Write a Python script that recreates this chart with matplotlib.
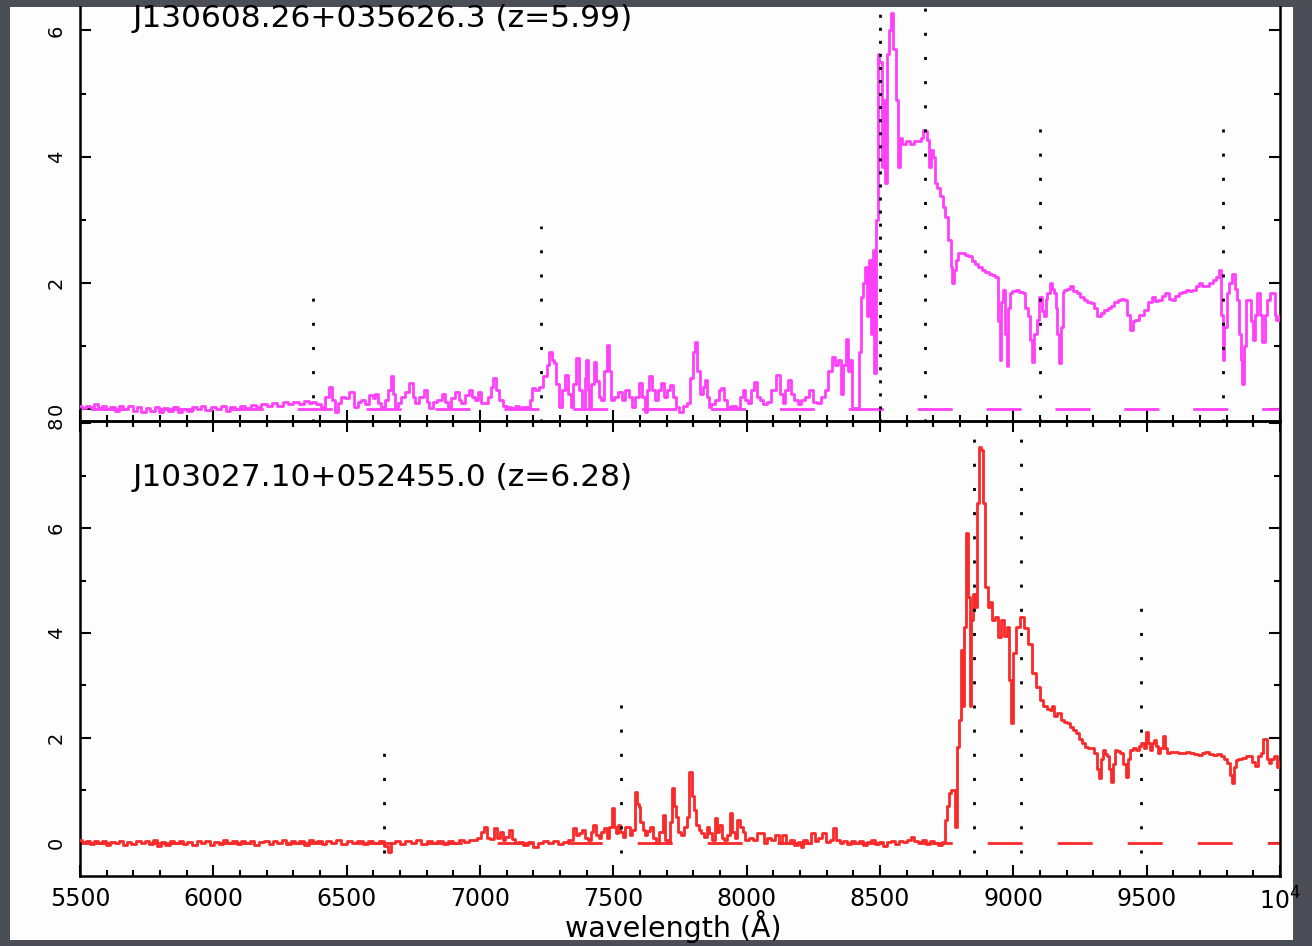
import matplotlib
matplotlib.use("Agg")
import matplotlib.pyplot as plt
from matplotlib.patches import Rectangle
from matplotlib.ticker import FixedLocator, FixedFormatter, MultipleLocator

plt.rcParams['font.family'] = ['DejaVu Sans']
plt.rcParams['mathtext.default'] = 'regular'

# ---- data ----
title_top = "J130608.26+035626.3 (z=5.99)"
title_bot = "J103027.10+052455.0 (z=6.28)"

x_ticks = [5500, 6000, 6500, 7000, 7500, 8000, 8500, 9000, 9500, 10000]
x_tick_labels = ['5500', '6000', '6500', '7000', '7500', '8000', '8500', '9000', '9500', '10$^4$']
y_ticks_top = [0, 2, 4, 6]
y_ticks_bot = [0, 2, 4, 6, 8]

# rest-frame lines: Lyman limit, OVI, Lya, NV, OI, SiIV
line_rest = [912, 1034, 1216, 1240, 1302, 1400]
line_top_wave = [6375, 7228, 8500, 8668, 9101, 9786]
line_top_height = [2.0, 2.9, 10, 10, 4.5, 4.55]
line_bot_wave = [6639, 7528, 8852, 9027, 9479]
line_bot_height = [2.0, 3.0, 10, 10, 4.5]

w_top = [5500, 5515, 5530, 5545, 5560, 5575, 5590, 5605, 5620, 5640, 5655, 5670, 5690, 5705, 5720, 5740,
         5755, 5770, 5790, 5805, 5820, 5840, 5860, 5875, 5890, 5910, 5930, 5945, 5960, 5980, 6000, 6020,
         6040, 6055, 6070, 6090, 6110, 6130, 6150, 6170, 6190, 6210, 6230, 6250, 6270, 6290, 6310, 6330,
         6350, 6365, 6376, 6395, 6412, 6428, 6440, 6452, 6462, 6474, 6484, 6500, 6519, 6534, 6548, 6562,
         6576, 6591, 6603, 6613, 6625, 6634, 6650, 6662, 6670, 6678, 6684, 6698, 6713, 6728, 6742, 6752,
         6763, 6780, 6799, 6806, 6814, 6830, 6849, 6864, 6875, 6885, 6900, 6914, 6925, 6936, 6950, 6964,
         6975, 6986, 7000, 7010, 7022, 7035, 7045, 7053, 7065, 7079, 7093, 7108, 7125, 7140, 7151, 7165,
         7180, 7192, 7201, 7215, 7230, 7244, 7255, 7266, 7273, 7280, 7290, 7301, 7312, 7323, 7334, 7345,
         7356, 7366, 7377, 7388, 7396, 7402, 7408, 7412, 7422, 7431, 7440, 7450, 7459, 7470, 7481, 7488,
         7495, 7510, 7524, 7538, 7553, 7563, 7574, 7590, 7603, 7612, 7624, 7632, 7639, 7650, 7660, 7672,
         7682, 7695, 7706, 7718, 7728, 7739, 7754, 7768, 7782, 7795, 7803, 7811, 7820, 7833, 7840, 7847,
         7854, 7861, 7875, 7890, 7900, 7911, 7920, 7933, 7950, 7969, 7980, 7990, 8000, 8012, 8022, 8033,
         8044, 8055, 8070, 8084, 8100, 8119, 8130, 8141, 8150, 8162, 8172, 8184, 8198, 8213, 8227, 8241,
         8255, 8270, 8285, 8299, 8310, 8327, 8338, 8349, 8356, 8365, 8378, 8385, 8392, 8399, 8406, 8418,
         8425, 8430, 8440, 8449, 8455, 8462, 8469, 8475, 8481, 8488, 8494, 8502, 8510, 8514, 8520, 8530,
         8539, 8545, 8555, 8565, 8570, 8577, 8590, 8605, 8621, 8635, 8647, 8658, 8666, 8672, 8679, 8685,
         8695, 8704, 8710, 8720, 8729, 8740, 8749, 8761, 8768, 8774, 8780, 8787, 8800, 8812, 8825, 8838,
         8850, 8863, 8875, 8888, 8900, 8914, 8925, 8939, 8946, 8952, 8958, 8965, 8972, 8978, 8984, 8990,
         9003, 9016, 9028, 9041, 9050, 9060, 9066, 9073, 9082, 9092, 9098, 9105, 9112, 9118, 9124, 9130,
         9143, 9150, 9156, 9162, 9169, 9175, 9181, 9188, 9194, 9206, 9219, 9232, 9245, 9258, 9270, 9283,
         9296, 9308, 9321, 9334, 9347, 9360, 9372, 9385, 9398, 9410, 9423, 9432, 9442, 9452, 9461, 9480,
         9499, 9512, 9525, 9537, 9550, 9562, 9576, 9588, 9601, 9614, 9627, 9640, 9652, 9665, 9677, 9690,
         9703, 9715, 9728, 9740, 9754, 9766, 9775, 9782, 9788, 9795, 9805, 9815, 9825, 9835, 9842, 9849,
         9856, 9862, 9870, 9878, 9887, 9895, 9900, 9910, 9919, 9928, 9938, 9947, 9957, 9966, 9976, 9984,
         9989, 10000]
f_top = [0.05, 0.02, 0.06, 0.03, 0.08, 0.02, 0.05, 0.0, 0.04, -0.03, 0.05, 0.01, 0.06, -0.02, 0.03, -0.05,
         0.02, -0.03, 0.04, -0.04, 0.02, -0.02, 0.03, -0.05, 0.01, -0.02, 0.04, 0.0, 0.05, -0.01, 0.03, 0.0,
         0.05, -0.02, 0.04, 0.01, 0.06, 0.02, 0.07, 0.03, 0.08, 0.05, 0.1, 0.06, 0.11, 0.08, 0.12, 0.09,
         0.13, 0.1, 0.12, 0.08, 0.04, 0.2, 0.36, 0.15, -0.04, 0.1, 0.2, 0.18, 0.28, 0.04, 0.12, 0.15,
         0.08, 0.23, 0.18, 0.25, 0.1, 0.04, 0.15, 0.3, 0.52, 0.25, 0.04, 0.1, 0.2, 0.28, 0.41, 0.2,
         0.1, 0.2, 0.31, 0.12, 0.02, 0.12, 0.15, 0.25, 0.12, 0.04, 0.18, 0.28, 0.14, 0.1, 0.22, 0.31,
         0.2, 0.15, 0.28, 0.1, 0.1, 0.2, 0.35, 0.49, 0.3, 0.15, 0.06, 0.04, 0.02, 0.05, 0.0, 0.03,
         0.04, 0.15, 0.33, 0.3, 0.36, 0.52, 0.7, 0.91, 0.78, 0.73, 0.4, 0.04, 0.3, 0.54, 0.25, 0.04,
         0.4, 0.81, 0.3, 0.04, 0.5, 0.78, 0.3, 0.04, 0.4, 0.75, 0.45, 0.2, 0.15, 0.6, 1.02, 0.6,
         0.15, 0.2, 0.28, 0.15, 0.31, 0.2, 0.04, 0.2, 0.41, 0.2, -0.04, 0.3, 0.52, 0.3, 0.15, 0.3,
         0.41, 0.2, 0.3, 0.38, 0.2, 0.04, -0.04, 0.05, 0.1, 0.5, 0.9, 1.07, 0.6, 0.25, 0.35, 0.46,
         0.2, 0.04, 0.08, 0.15, 0.3, 0.33, 0.15, 0.04, 0.06, 0.02, 0.2, 0.31, 0.15, 0.1, 0.3, 0.44,
         0.2, 0.15, 0.08, 0.12, 0.3, 0.54, 0.25, 0.1, 0.3, 0.46, 0.25, 0.15, 0.08, 0.15, 0.2, 0.31,
         0.12, 0.1, 0.2, 0.31, 0.6, 0.83, 0.7, 0.78, 0.25, 0.7, 1.12, 0.6, 0.78, 0.0, 0.02, 0.0,
         0.9, 1.78, 2.0, 2.26, 1.47, 2.36, 1.2, 2.52, 0.57, 3.0, 5.63, 5.5, 3.84, 4.9, 3.58, 5.63,
         6.0, 6.27, 5.7, 4.9, 3.84, 4.3, 4.2, 4.25, 4.2, 4.25, 4.25, 4.3, 4.42, 4.4, 4.26, 3.84,
         4.1, 4.0, 3.58, 3.5, 3.37, 3.2, 3.05, 2.68, 2.26, 2.0, 2.2, 2.36, 2.47, 2.47, 2.44, 2.42,
         2.35, 2.3, 2.25, 2.2, 2.18, 2.15, 2.12, 2.1, 1.4, 0.78, 1.7, 1.89, 1.2, 0.68, 1.6, 1.84,
         1.87, 1.89, 1.86, 1.84, 1.6, 1.47, 1.1, 0.75, 1.2, 1.42, 1.78, 1.78, 1.55, 1.47, 1.75, 1.84,
         2.0, 1.9, 1.84, 1.6, 1.2, 0.73, 1.3, 1.85, 1.89, 1.9, 1.95, 1.88, 1.84, 1.78, 1.73, 1.7,
         1.68, 1.6, 1.47, 1.52, 1.58, 1.6, 1.63, 1.7, 1.73, 1.75, 1.73, 1.5, 1.26, 1.4, 1.42, 1.5,
         1.58, 1.7, 1.78, 1.72, 1.73, 1.8, 1.84, 1.75, 1.73, 1.8, 1.84, 1.86, 1.89, 1.87, 1.89, 1.95,
         2.0, 1.96, 1.95, 2.0, 2.05, 2.1, 2.2, 1.5, 0.78, 1.3, 1.84, 2.0, 2.15, 1.9, 1.73, 1.2,
         0.78, 0.4, 1.0, 1.73, 1.73, 1.4, 1.1, 1.5, 1.84, 1.5, 1.07, 1.5, 1.73, 1.84, 1.84, 1.5,
         1.42, 1.47]

w_bot = [5500, 5515, 5530, 5545, 5560, 5575, 5590, 5605, 5620, 5640, 5655, 5670, 5685, 5700, 5720, 5735,
         5750, 5765, 5780, 5795, 5810, 5830, 5845, 5860, 5880, 5895, 5910, 5930, 5945, 5960, 5980, 5995,
         6010, 6030, 6045, 6060, 6080, 6095, 6110, 6130, 6145, 6160, 6180, 6200, 6215, 6230, 6250, 6265,
         6280, 6300, 6315, 6330, 6350, 6365, 6380, 6400, 6415, 6430, 6450, 6470, 6490, 6510, 6530, 6550,
         6570, 6590, 6610, 6630, 6650, 6660, 6672, 6690, 6710, 6730, 6750, 6770, 6790, 6810, 6830, 6850,
         6870, 6890, 6910, 6930, 6950, 6970, 6981, 6995, 7010, 7021, 7030, 7045, 7061, 7070, 7080, 7090,
         7100, 7115, 7125, 7135, 7150, 7170, 7190, 7210, 7225, 7245, 7265, 7285, 7300, 7320, 7340, 7356,
         7366, 7376, 7390, 7400, 7410, 7420, 7430, 7440, 7450, 7460, 7470, 7480, 7490, 7497, 7505, 7515,
         7523, 7530, 7540, 7550, 7557, 7565, 7575, 7584, 7592, 7597, 7605, 7615, 7622, 7630, 7644, 7655,
         7665, 7680, 7691, 7700, 7710, 7718, 7724, 7731, 7738, 7748, 7760, 7771, 7780, 7791, 7798, 7805,
         7815, 7825, 7835, 7845, 7855, 7865, 7875, 7884, 7892, 7902, 7910, 7920, 7930, 7942, 7950, 7960,
         7971, 7980, 7990, 8000, 8015, 8030, 8046, 8059, 8070, 8085, 8100, 8115, 8128, 8140, 8155, 8170,
         8185, 8200, 8206, 8220, 8235, 8249, 8262, 8275, 8293, 8305, 8318, 8330, 8342, 8355, 8370, 8385,
         8400, 8415, 8430, 8445, 8460, 8475, 8490, 8505, 8520, 8535, 8550, 8565, 8580, 8595, 8610, 8623,
         8635, 8650, 8665, 8680, 8695, 8710, 8725, 8740, 8747, 8755, 8762, 8770, 8776, 8783, 8791, 8798,
         8806, 8810, 8813, 8820, 8828, 8834, 8839, 8847, 8852, 8858, 8867, 8876, 8882, 8890, 8901, 8908,
         8915, 8923, 8937, 8945, 8959, 8974, 8981, 8989, 8996, 9003, 9018, 9033, 9047, 9062, 9076, 9091,
         9106, 9120, 9130, 9142, 9150, 9157, 9172, 9186, 9197, 9208, 9220, 9230, 9240, 9252, 9263, 9274,
         9285, 9296, 9311, 9318, 9325, 9332, 9340, 9348, 9355, 9362, 9369, 9376, 9384, 9395, 9406, 9417,
         9428, 9435, 9442, 9453, 9464, 9475, 9486, 9494, 9501, 9508, 9516, 9522, 9530, 9538, 9545, 9556,
         9567, 9574, 9581, 9596, 9611, 9625, 9640, 9655, 9669, 9684, 9699, 9713, 9728, 9742, 9757, 9772,
         9786, 9797, 9808, 9816, 9823, 9830, 9838, 9850, 9867, 9878, 9889, 9900, 9911, 9922, 9933, 9940,
         9950, 9955, 9962, 9973, 9984, 9992, 10000]
f_bot = [0.05, 0.02, 0.04, -0.02, 0.03, 0.0, 0.04, -0.03, 0.02, -0.01, 0.03, -0.04, 0.02, -0.02, 0.04, 0.0,
         0.03, -0.02, 0.05, -0.05, 0.02, -0.03, 0.03, 0.0, 0.04, -0.02, 0.02, -0.03, 0.03, 0.0, 0.04, -0.04,
         0.02, -0.02, 0.05, 0.0, 0.03, -0.02, 0.04, 0.0, 0.03, -0.03, 0.02, 0.04, -0.02, 0.03, 0.0, 0.05,
         -0.02, 0.03, 0.0, 0.04, -0.03, 0.05, 0.01, 0.04, -0.02, 0.03, 0.0, 0.05, -0.02, 0.03, 0.0, 0.04,
         -0.02, 0.03, 0.0, 0.04, -0.05, -0.17, 0.0, 0.04, -0.02, 0.03, 0.0, 0.05, -0.02, 0.03, 0.0, 0.04,
         -0.02, 0.03, 0.0, 0.05, 0.02, 0.06, 0.05, 0.1, 0.2, 0.31, 0.1, 0.08, 0.28, 0.1, 0.2, 0.05,
         0.12, 0.25, 0.08, 0.0, 0.02, -0.03, 0.02, -0.08, 0.0, 0.03, 0.0, 0.04, -0.02, 0.02, 0.05, 0.28,
         0.15, 0.18, 0.25, 0.1, 0.05, 0.2, 0.34, 0.15, 0.1, 0.2, 0.28, 0.1, 0.3, 0.66, 0.3, 0.18,
         0.34, 0.2, 0.12, 0.3, 0.31, 0.15, 0.25, 0.98, 0.75, 0.69, 0.4, 0.25, 0.15, 0.22, 0.31, 0.1,
         0.0, 0.2, 0.53, 0.05, 0.0, 0.4, 1.04, 0.7, 0.5, 0.2, 0.15, 0.31, 0.5, 1.36, 0.9, 0.63,
         0.35, 0.25, 0.18, 0.12, 0.3, 0.18, 0.05, 0.47, 0.2, 0.35, 0.1, 0.05, 0.15, 0.57, 0.2, 0.1,
         0.44, 0.3, 0.2, 0.05, 0.1, 0.05, 0.18, 0.18, 0.0, 0.1, 0.05, 0.15, 0.0, 0.15, 0.0, 0.05,
         -0.03, 0.02, -0.07, 0.05, 0.0, 0.18, 0.03, 0.1, 0.18, 0.02, 0.05, 0.28, 0.05, 0.0, 0.04, -0.02,
         0.03, 0.0, 0.04, -0.03, 0.02, 0.05, -0.02, 0.02, -0.05, 0.01, 0.04, -0.02, 0.03, 0.02, 0.06, 0.12,
         0.04, 0.02, 0.05, -0.02, 0.03, 0.0, -0.04, 0.02, 0.44, 0.7, 0.95, 1.0, 1.0, 0.3, 1.83, 2.34,
         3.68, 2.6, 2.6, 4.12, 5.9, 4.69, 2.6, 4.25, 4.75, 4.5, 6.47, 7.55, 7.49, 6.47, 4.88, 4.5,
         4.6, 4.25, 4.3, 3.93, 4.25, 3.95, 4.12, 3.1, 2.28, 3.61, 4.12, 4.31, 4.1, 3.8, 3.23, 2.98,
         2.72, 2.6, 2.55, 2.53, 2.6, 2.41, 2.47, 2.34, 2.3, 2.28, 2.2, 2.15, 2.1, 1.99, 1.9, 1.83,
         1.8, 1.8, 1.71, 1.4, 1.23, 1.6, 1.77, 1.7, 1.65, 1.4, 1.17, 1.5, 1.77, 1.75, 1.71, 1.5,
         1.26, 1.6, 1.77, 1.8, 1.77, 1.85, 1.9, 1.8, 2.12, 1.9, 1.77, 1.9, 1.96, 1.85, 1.71, 1.8,
         2.03, 1.8, 1.71, 1.73, 1.74, 1.72, 1.71, 1.73, 1.71, 1.7, 1.68, 1.72, 1.74, 1.7, 1.68, 1.7,
         1.65, 1.6, 1.52, 1.3, 1.14, 1.45, 1.58, 1.6, 1.61, 1.65, 1.65, 1.55, 1.46, 1.65, 1.71, 1.98,
         1.98, 1.6, 1.52, 1.6, 1.65, 1.45, 1.55]

# ---- figure ----
W, H = 1312, 946
fig = plt.figure(figsize=(W / 100, H / 100), dpi=100, facecolor='#4b4e56')
# the white slide area, drawn underneath everything else
fig.patches.append(Rectangle((10 / W, 6 / H), 1283 / W, 933 / H, transform=fig.transFigure,
                             facecolor='#fcfdfc', edgecolor='none', zorder=-10))

ax_top = fig.add_axes([80 / W, 525 / H, 1200 / W, 414 / H])
ax_bot = fig.add_axes([80 / W, 70 / H, 1200 / W, 455 / H])

magenta = '#ff40fa'
red = '#f82a2a'
LW = 2.0


def style_axes(ax, yticks, show_xlabels):
    ax.set_facecolor('none')
    for s in ax.spines.values():
        s.set_linewidth(1.8)
    ax.set_xlim(5500, 10000)
    ax.xaxis.set_major_locator(FixedLocator(x_ticks))
    ax.xaxis.set_minor_locator(MultipleLocator(100))
    ax.yaxis.set_major_locator(FixedLocator(yticks))
    ax.yaxis.set_minor_locator(MultipleLocator(1))
    ax.tick_params(which='both', direction='in', top=True, right=True, width=1.5, color='black')
    ax.tick_params(which='major', length=8)
    ax.tick_params(which='minor', length=4.5)
    ax.tick_params(axis='y', labelsize=14, labelrotation=90, pad=10)
    ax.tick_params(axis='x', labelsize=17, pad=8)
    if show_xlabels:
        ax.xaxis.set_major_formatter(FixedFormatter(x_tick_labels))
    else:
        ax.tick_params(axis='x', labelbottom=False)
    for lab in ax.get_yticklabels():
        lab.set_va('center')


style_axes(ax_top, y_ticks_top, False)
style_axes(ax_bot, y_ticks_bot, True)
ax_top.spines['top'].set_visible(False)
ax_top.tick_params(axis='x', which='both', top=False)
ax_top.set_ylim(-0.185, 6.37)
ax_bot.set_ylim(-0.63, 8.04)

# zero level
ax_top.axhline(0, color=magenta, lw=LW, linestyle=(21, (12.6, 12.2)), zorder=2)
ax_bot.axhline(0, color=red, lw=LW, linestyle=(1.0, (12.6, 12.6)), zorder=2)

# spectra
ax_top.plot(w_top, f_top, color=magenta, lw=LW, drawstyle='steps-mid', zorder=3)
ax_bot.plot(w_bot, f_bot, color=red, lw=LW, drawstyle='steps-mid', zorder=3)

# redshifted line markers
for w, h in zip(line_top_wave, line_top_height):
    dots = (0, (1.1, 3.6)) if w == 8500 else (0, (1.1, 7.6))
    ax_top.plot([w, w], [-0.2, h], color='black', lw=LW, linestyle=dots, zorder=4)
for w, h in zip(line_bot_wave, line_bot_height):
    ax_bot.plot([w, w], [-0.2, h], color='black', lw=LW, linestyle=(0, (1.1, 7.6)), zorder=4)

ax_top.text(0.044, 0.972, title_top, transform=ax_top.transAxes, fontsize=22.5, va='center', ha='left')
ax_bot.text(0.044, 0.876, title_bot, transform=ax_bot.transAxes, fontsize=22.5, va='center', ha='left')

ax_bot.set_xlabel('wavelength (Å)', fontsize=20.5)
ax_bot.xaxis.set_label_coords(0.494, -0.075)

fig.savefig('out.png', dpi=100, facecolor=fig.get_facecolor())
